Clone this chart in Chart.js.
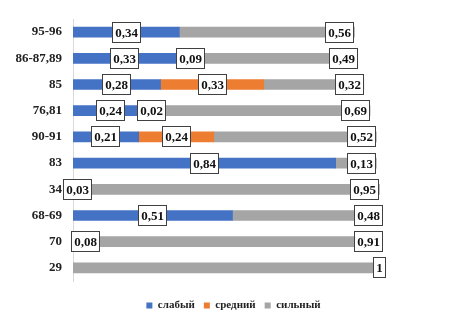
<!DOCTYPE html>
<html>
<head>
<meta charset="utf-8">
<script src="https://cdn.jsdelivr.net/npm/chart.js@4"></script>
<style>
  html, body { margin: 0; padding: 0; background: #fff; }
  #wrap { width: 467px; height: 328px; }
</style>
</head>
<body>
<div id="wrap"><canvas id="grafico"></canvas></div>
<script>
// Категории и значения
const categorias = ['95-96', '86-87,89', '85', '76,81', '90-91', '83', '34', '68-69', '70', '29'];
const slabyj = [0.34, 0.33, 0.28, 0.24, 0.21, 0.84, 0.03, 0.51, 0.08, null];
const srednij = [null, 0.09, 0.33, 0.02, 0.24, null, null, null, null, null];
const silnyj = [0.56, 0.49, 0.32, 0.69, 0.52, 0.13, 0.95, 0.48, 0.91, 1];

const fonte = '"Liberation Serif", "Times New Roman", serif';

// Подписи значений в рамках
const rotulos = {
    id: 'rotulos',
    afterDatasetsDraw(chart) {
        const ctx = chart.ctx;
        ctx.save();
        ctx.font = 'bold 13px ' + fonte;
        ctx.textAlign = 'center';
        ctx.textBaseline = 'middle';
        chart.data.datasets.forEach((ds, di) => {
            const meta = chart.getDatasetMeta(di);
            meta.data.forEach((bar, i) => {
                const v = ds.data[i];
                if (v === null || v === undefined) return;
                const txt = String(v).replace('.', ',');
                const w = Math.round(ctx.measureText(txt).width + 6);
                const h = 21;
                let cx = (bar.x + bar.base) / 2;
                if (di === 2) cx = bar.x - w / 2;
                const left = Math.round(cx - w / 2);
                const top = Math.round(bar.y - h / 2);
                ctx.fillStyle = '#fff';
                ctx.fillRect(left, top, w, h);
                ctx.strokeStyle = '#404040';
                ctx.lineWidth = 1;
                ctx.strokeRect(left + 0.5, top + 0.5, w - 1, h - 1);
                ctx.fillStyle = '#111';
                ctx.fillText(txt, left + w / 2, top + h / 2 + 1);
            });
        });
        ctx.restore();
    }
};

const config = {
    type: 'bar',
    data: {
        labels: categorias,
        datasets: [
            { label: 'слабый', data: slabyj, backgroundColor: '#4472C4' },
            { label: 'средний', data: srednij, backgroundColor: '#ED7D31' },
            { label: 'сильный', data: silnyj, backgroundColor: '#A5A5A5' }
        ]
    },
    options: {
        indexAxis: 'y',
        responsive: true,
        maintainAspectRatio: false,
        animation: false,
        barThickness: 10,
        layout: {
            padding: { top: 19, right: 0, bottom: 7, left: 0 }
        },
        plugins: {
            legend: {
                position: 'bottom',
                labels: {
                    boxWidth: 6,
                    boxHeight: 6,
                    padding: 9,
                    color: '#222',
                    font: { family: fonte, size: 11, weight: 'bold' }
                }
            },
            tooltip: { enabled: false }
        },
        scales: {
            x: {
                stacked: true,
                min: 0,
                max: 1.26,
                ticks: { display: false },
                grid: { display: false },
                border: { display: false },
                afterFit(scale) { scale.height = 10; }
            },
            y: {
                stacked: true,
                grid: { display: false, drawTicks: false },
                border: { display: true, color: '#d9d9d9', width: 1 },
                ticks: {
                    padding: 11,
                    color: '#222',
                    font: { family: fonte, size: 13, weight: 'bold' }
                },
                afterFit(scale) { scale.width = 73; }
            }
        }
    },
    plugins: [rotulos]
};

const ctx = document.getElementById('grafico').getContext('2d');
const grafico = new Chart(ctx, config);
</script>
</body>
</html>
